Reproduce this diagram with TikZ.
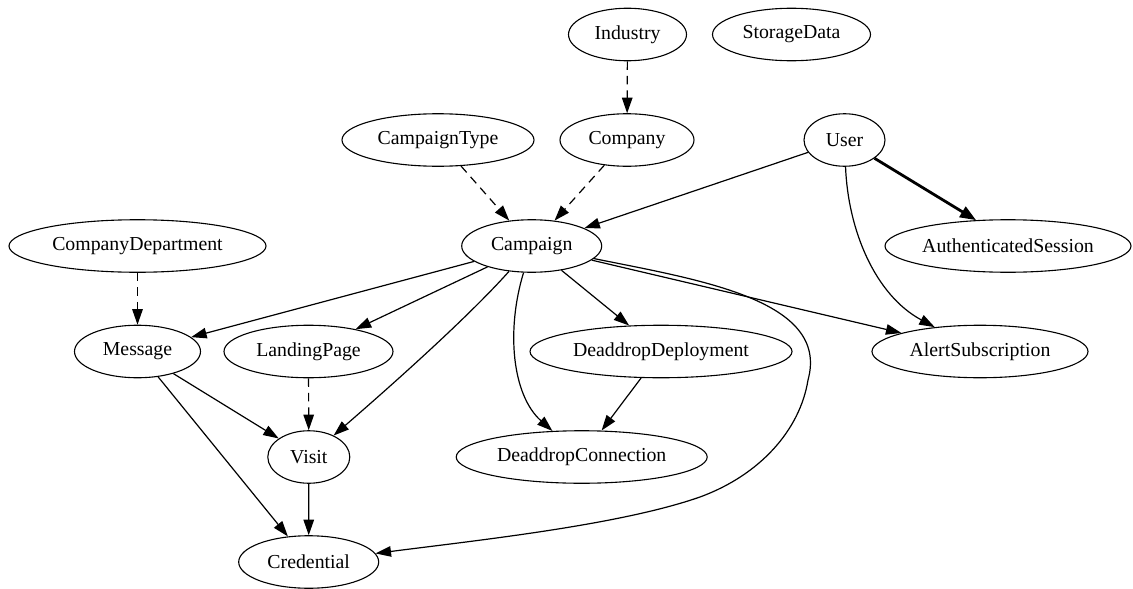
\documentclass[tikz,border=0pt]{standalone}
\usepackage{fontspec}
\setmainfont{Liberation Serif}
\usetikzlibrary{shapes.geometric,arrows.meta}
\begin{document}
\begin{tikzpicture}[x=1pt,y=-1pt,
  nd/.style={draw, ellipse, line width=1.1pt, inner sep=0pt, minimum height=52.5pt,
             font=\fontsize{19.8}{24}\selectfont},
  ed/.style={line width=1.2pt, -{Triangle[length=15.5pt,width=10.5pt]}},
  dsh/.style={ed, dash pattern=on 8.5pt off 6pt},
  thk/.style={line width=2.8pt, -{Triangle[length=16pt,width=12pt]}}]
\useasboundingbox (0,0) rectangle (1133,589);

% row 1
\node[nd, minimum width=118pt] (industry) at (627.5,34.5) {Industry};
\node[nd, minimum width=158pt] (storage) at (791.5,34.5) {StorageData};
% row 2
\node[nd, minimum width=192pt] (ctype) at (438,140) {CampaignType};
\node[nd, minimum width=134pt] (company) at (627,140) {Company};
\node[nd, minimum width=81pt] (user) at (844.5,140) {User};
% row 3
\node[nd, minimum width=257pt] (cdept) at (137.5,246) {CompanyDepartment};
\node[nd, minimum width=140pt] (campaign) at (531.7,246) {Campaign};
\node[nd, minimum width=246pt] (auth) at (1008,246) {AuthenticatedSession};
% row 4
\node[nd, minimum width=126pt] (message) at (137.5,351.5) {Message};
\node[nd, minimum width=169pt] (landing) at (308.5,351.5) {LandingPage};
\node[nd, minimum width=262pt] (dddep) at (661,351.5) {DeaddropDeployment};
\node[nd, minimum width=216pt] (alert) at (980,351.5) {AlertSubscription};
% row 5
\node[nd, minimum width=82pt] (visit) at (308.8,457) {Visit};
\node[nd, minimum width=251pt] (ddconn) at (581.7,457) {DeaddropConnection};
% row 6
\node[nd, minimum width=140pt] (cred) at (308.7,562) {Credential};

% edges
\draw[dsh] (industry) -- (company);
\draw[dsh] (ctype) -- (campaign);
\draw[dsh] (company) -- (campaign);
\draw[ed] (user) -- (campaign);
\draw[thk] (user) -- (auth.141);
\draw[ed] (user) .. controls (848,230) and (875,295) .. (alert);
\draw[dsh] (cdept) -- (message);
\draw[ed] (campaign) -- (message);
\draw[ed] (campaign) -- (landing);
\draw[ed] (campaign) .. controls (470,315) and (400,378) .. (visit);
\draw[ed] (campaign) -- (dddep);
\draw[ed] (campaign) .. controls (506,330) and (512,395) .. (ddconn);
\draw[ed] (campaign) -- (alert);
\draw[ed] (campaign) .. controls (700,280) and (830,300) .. (808,380)
  .. controls (800,430) and (760,475) .. (700,497)
  .. controls (620,525) and (480,540) .. (cred);
\draw[ed] (dddep) -- (ddconn);
\draw[ed] (message) -- (visit);
\draw[ed] (message) -- (cred);
\draw[dsh] (landing) -- (visit);
\draw[ed] (visit) -- (cred);
\end{tikzpicture}
\end{document}
